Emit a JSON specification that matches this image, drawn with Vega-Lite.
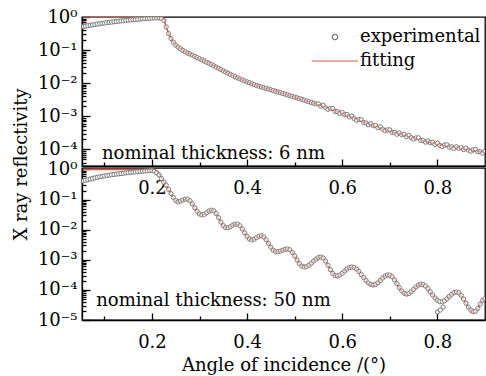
{
  "$schema": "https://vega.github.io/schema/vega-lite/v6.json",
  "padding": {"left": 11, "top": 7, "right": 0, "bottom": 0},
  "background": "white",
  "config": {
    "font": "DejaVu Serif",
    "view": {"stroke": "black", "strokeWidth": 1.3},
    "axis": {"labelFont": "DejaVu Serif", "labelFontSize": 18, "labelColor": "black", "titleFont": "DejaVu Serif", "titleFontSize": 18, "titleFontWeight": "normal", "titleColor": "black", "domainColor": "black", "domainWidth": 1.3, "tickColor": "black", "tickWidth": 1.3, "grid": false, "labelOverlap": false, "labelBound": false, "labelFlush": false}
  },
  "datasets": {
    "thin": [
      {"x":0.055,"e":0.513,"f":1},{"x":0.06,"e":0.531,"f":1},{"x":0.065,"e":0.547,"f":1},{"x":0.07,"e":0.562,"f":1},{"x":0.075,"e":0.578,"f":1},{"x":0.08,"e":0.594,"f":1},{"x":0.085,"e":0.61,"f":1},{"x":0.09,"e":0.625,"f":1},{"x":0.095,"e":0.641,"f":1},{"x":0.1,"e":0.656,"f":1},
      {"x":0.105,"e":0.671,"f":1},{"x":0.11,"e":0.687,"f":1},{"x":0.115,"e":0.701,"f":1},{"x":0.12,"e":0.716,"f":1},{"x":0.125,"e":0.731,"f":1},{"x":0.13,"e":0.746,"f":1},{"x":0.135,"e":0.76,"f":1},{"x":0.14,"e":0.774,"f":1},{"x":0.145,"e":0.789,"f":1},{"x":0.15,"e":0.804,"f":1},
      {"x":0.155,"e":0.817,"f":1},{"x":0.16,"e":0.83,"f":1},{"x":0.165,"e":0.843,"f":1},{"x":0.17,"e":0.857,"f":1},{"x":0.175,"e":0.869,"f":1},{"x":0.18,"e":0.881,"f":1},{"x":0.185,"e":0.893,"f":1},{"x":0.19,"e":0.904,"f":1},{"x":0.195,"e":0.914,"f":1},{"x":0.2,"e":0.925,"f":1},
      {"x":0.205,"e":0.933,"f":1},{"x":0.21,"e":0.94,"f":1},{"x":0.215,"e":0.944,"f":1},{"x":0.22,"e":0.912,"f":0.98},{"x":0.225,"e":0.794,"f":0.85},{"x":0.23,"e":0.501,"f":0.5},{"x":0.235,"e":0.316,"f":0.32},{"x":0.24,"e":0.224,"f":0.224},{"x":0.245,"e":0.174,"f":0.174},{"x":0.25,"e":0.141,"f":0.141},
      {"x":0.255,"e":0.123,"f":0.123},{"x":0.26,"e":0.11,"f":0.11},{"x":0.265,"e":0.098,"f":0.098},{"x":0.27,"e":0.089,"f":0.089},{"x":0.275,"e":0.081,"f":0.081},{"x":0.28,"e":0.076,"f":0.076},{"x":0.285,"e":0.07,"f":0.07},{"x":0.29,"e":0.0646,"f":0.0646},{"x":0.295,"e":0.0596,"f":0.0596},{"x":0.3,"e":0.055,"f":0.055},
      {"x":0.305,"e":0.0507,"f":0.0507},{"x":0.31,"e":0.0468,"f":0.0468},{"x":0.315,"e":0.0432,"f":0.0432},{"x":0.32,"e":0.0398,"f":0.0398},{"x":0.325,"e":0.0366,"f":0.0366},{"x":0.33,"e":0.0335,"f":0.0335},{"x":0.335,"e":0.0308,"f":0.0308},{"x":0.34,"e":0.0282,"f":0.0282},{"x":0.345,"e":0.0259,"f":0.0259},{"x":0.35,"e":0.0237,"f":0.0237},
      {"x":0.355,"e":0.0218,"f":0.0218},{"x":0.36,"e":0.02,"f":0.02},{"x":0.365,"e":0.0184,"f":0.0184},{"x":0.37,"e":0.017,"f":0.017},{"x":0.375,"e":0.0157,"f":0.0157},{"x":0.38,"e":0.0145,"f":0.0145},{"x":0.385,"e":0.0135,"f":0.0135},{"x":0.39,"e":0.0126,"f":0.0126},{"x":0.395,"e":0.0117,"f":0.0117},{"x":0.4,"e":0.011,"f":0.011},
      {"x":0.405,"e":0.0103,"f":0.0103},{"x":0.41,"e":0.00966,"f":0.00966},{"x":0.415,"e":0.00906,"f":0.00906},{"x":0.42,"e":0.00851,"f":0.00851},{"x":0.425,"e":0.00809,"f":0.00809},{"x":0.43,"e":0.00771,"f":0.00771},{"x":0.435,"e":0.00733,"f":0.00733},{"x":0.44,"e":0.00697,"f":0.00697},{"x":0.445,"e":0.00664,"f":0.00664},{"x":0.45,"e":0.00631,"f":0.00631},
      {"x":0.455,"e":0.006,"f":0.006},{"x":0.46,"e":0.0057,"f":0.0057},{"x":0.465,"e":0.00542,"f":0.00542},{"x":0.47,"e":0.00515,"f":0.00515},{"x":0.475,"e":0.0049,"f":0.0049},{"x":0.48,"e":0.00466,"f":0.00466},{"x":0.485,"e":0.00443,"f":0.00443},{"x":0.49,"e":0.00421,"f":0.00421},{"x":0.495,"e":0.004,"f":0.004},{"x":0.5,"e":0.0038,"f":0.0038},
      {"x":0.505,"e":0.00361,"f":0.00361},{"x":0.51,"e":0.00342,"f":0.00342},{"x":0.515,"e":0.00324,"f":0.00324},{"x":0.52,"e":0.00308,"f":0.00308},{"x":0.525,"e":0.00292,"f":0.00292},{"x":0.53,"e":0.00277,"f":0.00277},{"x":0.535,"e":0.00262,"f":0.00262},{"x":0.54,"e":0.00249,"f":0.00249},{"x":0.545,"e":0.00236,"f":0.00236},{"x":0.55,"e":0.00237,"f":0.00224},
      {"x":0.555,"e":0.002,"f":0.00211},{"x":0.56,"e":0.00217,"f":0.00199},{"x":0.565,"e":0.00181,"f":0.00187},{"x":0.57,"e":0.00162,"f":0.00176},{"x":0.575,"e":0.00173,"f":0.00166},{"x":0.58,"e":0.00172,"f":0.00156},{"x":0.585,"e":0.00141,"f":0.00147},{"x":0.59,"e":0.00139,"f":0.00139},{"x":0.595,"e":0.00122,"f":0.00131},{"x":0.6,"e":0.00132,"f":0.00123},
      {"x":0.605,"e":0.00113,"f":0.00115},{"x":0.61,"e":0.00114,"f":0.00108},{"x":0.615,"e":0.00096,"f":0.00101},{"x":0.62,"e":0.00103,"f":0.000942},{"x":0.625,"e":0.000855,"f":0.000881},{"x":0.63,"e":0.000758,"f":0.000824},{"x":0.635,"e":0.000802,"f":0.000771},{"x":0.64,"e":0.000793,"f":0.000721},{"x":0.645,"e":0.000648,"f":0.000675},{"x":0.65,"e":0.000631,"f":0.000631},
      {"x":0.655,"e":0.000554,"f":0.000596},{"x":0.66,"e":0.000601,"f":0.000562},{"x":0.665,"e":0.00052,"f":0.000531},{"x":0.67,"e":0.000531,"f":0.000501},{"x":0.675,"e":0.000449,"f":0.000473},{"x":0.68,"e":0.000487,"f":0.000447},{"x":0.685,"e":0.000409,"f":0.000422},{"x":0.69,"e":0.000366,"f":0.000398},{"x":0.695,"e":0.000391,"f":0.000376},{"x":0.7,"e":0.000391,"f":0.000355},
      {"x":0.705,"e":0.000325,"f":0.000339},{"x":0.71,"e":0.000324,"f":0.000324},{"x":0.715,"e":0.000287,"f":0.000309},{"x":0.72,"e":0.000316,"f":0.000295},{"x":0.725,"e":0.000276,"f":0.000282},{"x":0.73,"e":0.000285,"f":0.000269},{"x":0.735,"e":0.000244,"f":0.000257},{"x":0.74,"e":0.000267,"f":0.000245},{"x":0.745,"e":0.000227,"f":0.000234},{"x":0.75,"e":0.000206,"f":0.000224},
      {"x":0.755,"e":0.000223,"f":0.000214},{"x":0.76,"e":0.000224,"f":0.000204},{"x":0.765,"e":0.000187,"f":0.000195},{"x":0.77,"e":0.000186,"f":0.000186},{"x":0.775,"e":0.000166,"f":0.000178},{"x":0.78,"e":0.000182,"f":0.00017},{"x":0.785,"e":0.000159,"f":0.000162},{"x":0.79,"e":0.000164,"f":0.000155},{"x":0.795,"e":0.000141,"f":0.000148},{"x":0.8,"e":0.000154,"f":0.000141},
      {"x":0.805,"e":0.000133,"f":0.000137},{"x":0.81,"e":0.000123,"f":0.000134},{"x":0.815,"e":0.000135,"f":0.00013},{"x":0.82,"e":0.000139,"f":0.000126},{"x":0.825,"e":0.000118,"f":0.000123},{"x":0.83,"e":0.00012,"f":0.00012},{"x":0.835,"e":0.000108,"f":0.000116},{"x":0.84,"e":0.000121,"f":0.000113},{"x":0.845,"e":0.000108,"f":0.00011},{"x":0.85,"e":0.000113,"f":0.000107},
      {"x":0.855,"e":0.0000988,"f":0.000104},{"x":0.86,"e":0.00011,"f":0.000101},{"x":0.865,"e":0.0000956,"f":0.0000986},{"x":0.87,"e":0.0000882,"f":0.0000959},{"x":0.875,"e":0.000097,"f":0.0000933},{"x":0.88,"e":0.0000999,"f":0.0000908},{"x":0.885,"e":0.0000848,"f":0.0000883},{"x":0.89,"e":0.0000859,"f":0.0000859},{"x":0.895,"e":0.0000777,"f":0.0000836},{"x":0.9,"e":0.000087,"f":0.0000813}
    ],
    "thick": [
      {"x":0.055,"e":0.417,"f":1},{"x":0.06,"e":0.437,"f":1},{"x":0.065,"e":0.457,"f":1},{"x":0.07,"e":0.479,"f":1},{"x":0.075,"e":0.501,"f":1},{"x":0.08,"e":0.525,"f":1},{"x":0.085,"e":0.55,"f":1},{"x":0.09,"e":0.569,"f":1},{"x":0.095,"e":0.589,"f":1},{"x":0.1,"e":0.61,"f":1},
      {"x":0.105,"e":0.631,"f":1},{"x":0.11,"e":0.646,"f":1},{"x":0.115,"e":0.668,"f":1},{"x":0.12,"e":0.684,"f":1},{"x":0.125,"e":0.7,"f":1},{"x":0.13,"e":0.716,"f":1},{"x":0.135,"e":0.733,"f":1},{"x":0.14,"e":0.75,"f":1},{"x":0.145,"e":0.767,"f":1},{"x":0.15,"e":0.785,"f":1},
      {"x":0.155,"e":0.8,"f":1},{"x":0.16,"e":0.815,"f":1},{"x":0.165,"e":0.83,"f":1},{"x":0.17,"e":0.845,"f":1},{"x":0.175,"e":0.859,"f":1},{"x":0.18,"e":0.873,"f":1},{"x":0.185,"e":0.887,"f":1},{"x":0.19,"e":0.902,"f":1},{"x":0.195,"e":0.916,"f":1},{"x":0.2,"e":0.933,"f":1},
      {"x":0.205,"e":0.871,"f":1},{"x":0.21,"e":0.776,"f":0.92},{"x":0.215,"e":0.661,"f":0.74},{"x":0.22,"e":0.501,"f":0.53},{"x":0.225,"e":0.38,"f":0.39},{"x":0.23,"e":0.302,"f":0.29},{"x":0.235,"e":0.219,"f":0.21},{"x":0.24,"e":0.158,"f":0.155},{"x":0.245,"e":0.117,"f":0.117},{"x":0.25,"e":0.0933,"f":0.0933},
      {"x":0.255,"e":0.0841,"f":0.0841},{"x":0.26,"e":0.0895,"f":0.0895},{"x":0.265,"e":0.0973,"f":0.0973},{"x":0.27,"e":0.1035,"f":0.1035},{"x":0.275,"e":0.1035,"f":0.1035},{"x":0.28,"e":0.0912,"f":0.0912},{"x":0.285,"e":0.0718,"f":0.0718},{"x":0.29,"e":0.0536,"f":0.0536},{"x":0.295,"e":0.0406,"f":0.0406},{"x":0.3,"e":0.0332,"f":0.0332},
      {"x":0.305,"e":0.0309,"f":0.0309},{"x":0.31,"e":0.0324,"f":0.0324},{"x":0.315,"e":0.0366,"f":0.0366},{"x":0.32,"e":0.0417,"f":0.0417},{"x":0.325,"e":0.0446,"f":0.0446},{"x":0.33,"e":0.0423,"f":0.0423},{"x":0.335,"e":0.0344,"f":0.0344},{"x":0.34,"e":0.0251,"f":0.0251},{"x":0.345,"e":0.0179,"f":0.0179},{"x":0.35,"e":0.0136,"f":0.0136},
      {"x":0.355,"e":0.0116,"f":0.0116},{"x":0.36,"e":0.0116,"f":0.0116},{"x":0.365,"e":0.0126,"f":0.0126},{"x":0.37,"e":0.0141,"f":0.0141},{"x":0.375,"e":0.0153,"f":0.0153},{"x":0.38,"e":0.0153,"f":0.0153},{"x":0.385,"e":0.0135,"f":0.0135},{"x":0.39,"e":0.0106,"f":0.0106},{"x":0.395,"e":0.00792,"f":0.00792},{"x":0.4,"e":0.006,"f":0.006},
      {"x":0.405,"e":0.00491,"f":0.00491},{"x":0.41,"e":0.00457,"f":0.00457},{"x":0.415,"e":0.00481,"f":0.00481},{"x":0.42,"e":0.00545,"f":0.00545},{"x":0.425,"e":0.0061,"f":0.0061},{"x":0.43,"e":0.0063,"f":0.0063},{"x":0.435,"e":0.00571,"f":0.00571},{"x":0.44,"e":0.00462,"f":0.00462},{"x":0.445,"e":0.00349,"f":0.00349},{"x":0.45,"e":0.00261,"f":0.00261},
      {"x":0.455,"e":0.00208,"f":0.00208},{"x":0.46,"e":0.00184,"f":0.00184},{"x":0.465,"e":0.00184,"f":0.00184},{"x":0.47,"e":0.00194,"f":0.00194},{"x":0.475,"e":0.00209,"f":0.00209},{"x":0.48,"e":0.00223,"f":0.00223},{"x":0.485,"e":0.00229,"f":0.00229},{"x":0.49,"e":0.00214,"f":0.00214},{"x":0.495,"e":0.00176,"f":0.00176},{"x":0.5,"e":0.00134,"f":0.00134},
      {"x":0.505,"e":0.000984,"f":0.000984},{"x":0.51,"e":0.000748,"f":0.000748},{"x":0.515,"e":0.000617,"f":0.000617},{"x":0.52,"e":0.000575,"f":0.000575},{"x":0.525,"e":0.000597,"f":0.000597},{"x":0.53,"e":0.000665,"f":0.000665},{"x":0.535,"e":0.000773,"f":0.000773},{"x":0.54,"e":0.000916,"f":0.000916},{"x":0.545,"e":0.00106,"f":0.00106},{"x":0.55,"e":0.00119,"f":0.00119},
      {"x":0.555,"e":0.00123,"f":0.00123},{"x":0.56,"e":0.00114,"f":0.00114},{"x":0.565,"e":0.000908,"f":0.000908},{"x":0.57,"e":0.000659,"f":0.000659},{"x":0.575,"e":0.000472,"f":0.000472},{"x":0.58,"e":0.000353,"f":0.000353},{"x":0.585,"e":0.000297,"f":0.000285},{"x":0.59,"e":0.00029,"f":0.000265},{"x":0.595,"e":0.000312,"f":0.000305},{"x":0.6,"e":0.000357,"f":0.000357},
      {"x":0.605,"e":0.000422,"f":0.000422},{"x":0.61,"e":0.000493,"f":0.000493},{"x":0.615,"e":0.000552,"f":0.000552},{"x":0.62,"e":0.000575,"f":0.000575},{"x":0.625,"e":0.000552,"f":0.000552},{"x":0.63,"e":0.00049,"f":0.00049},{"x":0.635,"e":0.000407,"f":0.000407},{"x":0.64,"e":0.000325,"f":0.000325},{"x":0.645,"e":0.000256,"f":0.000256},{"x":0.65,"e":0.000204,"f":0.000204},
      {"x":0.655,"e":0.00017,"f":0.000165},{"x":0.66,"e":0.000151,"f":0.000142},{"x":0.665,"e":0.000145,"f":0.000135},{"x":0.67,"e":0.000151,"f":0.000146},{"x":0.675,"e":0.000172,"f":0.000172},{"x":0.68,"e":0.000206,"f":0.000206},{"x":0.685,"e":0.000248,"f":0.000248},{"x":0.69,"e":0.000288,"f":0.000288},{"x":0.695,"e":0.000314,"f":0.000314},{"x":0.7,"e":0.000309,"f":0.000309},
      {"x":0.705,"e":0.000272,"f":0.000272},{"x":0.71,"e":0.000214,"f":0.000214},{"x":0.715,"e":0.000161,"f":0.000161},{"x":0.72,"e":0.000119,"f":0.000119},{"x":0.725,"e":0.0000916,"f":0.000088},{"x":0.73,"e":0.0000771,"f":0.000072},{"x":0.735,"e":0.0000724,"f":0.000068},{"x":0.74,"e":0.0000759,"f":0.000073},{"x":0.745,"e":0.0000869,"f":0.0000869},{"x":0.75,"e":0.000104,"f":0.000104},
      {"x":0.755,"e":0.000125,"f":0.000125},{"x":0.76,"e":0.000145,"f":0.000145},{"x":0.765,"e":0.000155,"f":0.000155},{"x":0.77,"e":0.00015,"f":0.00015},{"x":0.775,"e":0.000134,"f":0.000134},{"x":0.78,"e":0.00011,"f":0.00011},{"x":0.785,"e":0.0000869,"f":0.0000869},{"x":0.79,"e":0.0000676,"f":0.0000676},{"x":0.795,"e":0.0000537,"f":0.0000537},{"x":0.8,"e":0.000045,"f":0.000043},
      {"x":0.8,"e":0.0000186},{"x":0.806,"e":0.0000214},{"x":0.812,"e":0.0000269},
      {"x":0.805,"e":0.0000405,"f":0.000038},{"x":0.81,"e":0.0000401,"f":0.000038},{"x":0.815,"e":0.0000434,"f":0.0000434},{"x":0.82,"e":0.0000504,"f":0.0000504},{"x":0.825,"e":0.0000604,"f":0.0000604},{"x":0.83,"e":0.0000718,"f":0.0000718},{"x":0.835,"e":0.0000815,"f":0.0000815},{"x":0.84,"e":0.0000851,"f":0.0000851},{"x":0.845,"e":0.0000796,"f":0.0000796},{"x":0.85,"e":0.0000656,"f":0.0000656},
      {"x":0.855,"e":0.0000499,"f":0.0000499},{"x":0.86,"e":0.0000361,"f":0.0000361},{"x":0.865,"e":0.0000269,"f":0.0000269},{"x":0.87,"e":0.0000213,"f":0.000021},{"x":0.875,"e":0.0000188,"f":0.000018},{"x":0.88,"e":0.0000194,"f":0.0000185},{"x":0.885,"e":0.0000243,"f":0.0000243},{"x":0.89,"e":0.0000338,"f":0.0000338},{"x":0.895,"e":0.000045,"f":0.000045},{"x":0.9,"e":0.0000501,"f":0.0000501}
    ]
  },
  "spacing": 2,
  "bounds": "flush",
  "resolve": {"scale": {"x": "independent", "y": "independent", "stroke": "independent"}, "legend": {"stroke": "independent"}},
  "vconcat": [
    {
      "width": 403,
      "height": 149,
      "data": {"name": "thin"},
      "encoding": {
        "x": {"field": "x", "type": "quantitative", "scale": {"domain": [0.053, 0.9], "nice": false, "zero": false},
          "axis": {"title": null, "values": [0.1,0.2,0.3,0.4,0.5,0.6,0.7,0.8], "labelExpr": "round(datum.value*10)%2==0 ? format(datum.value,'.1f') : ''", "tickSize": {"condition": {"test": "round(datum.value*10)%2==0", "value": -7}, "value": -4}, "labelPadding": 20}}
      },
      "layer": [
        {
          "mark": {"type": "line", "strokeWidth": 1.3, "clip": true},
          "encoding": {
            "y": {"field": "f", "type": "quantitative", "scale": {"type": "log", "domain": [0.0000316, 1], "nice": false},
              "axis": {"title": "X ray reflectivity", "titleX": -61, "titleY": 147, "titleBaseline": "middle", "titleAngle": -90,
                "values": [1,0.9,0.8,0.7,0.6,0.5,0.4,0.3,0.2,0.1,0.09,0.08,0.07,0.06,0.05,0.04,0.03,0.02,0.01,0.009,0.008,0.007,0.006,0.005,0.004,0.003,0.002,0.001,0.0009,0.0008,0.0007,0.0006,0.0005,0.0004,0.0003,0.0002,0.0001,0.00009,0.00008,0.00007,0.00006,0.00005,0.00004],
                "labelExpr": "abs(log(datum.value)/LN10 - round(log(datum.value)/LN10)) < 0.01 ? '10' + ['⁰','⁻¹','⁻²','⁻³','⁻⁴','⁻⁵'][-round(log(datum.value)/LN10)] : ''",
                "tickSize": {"condition": {"test": "abs(log(datum.value)/LN10 - round(log(datum.value)/LN10)) < 0.01", "value": -8}, "value": -4},
                "labelPadding": 13}},
            "stroke": {"datum": "fitting", "scale": {"domain": ["experimental", "fitting"], "range": ["#6e6e6e", "#d9573e"]},
              "legend": {"orient": "none", "legendX": 244, "legendY": 11, "title": null, "padding": 0, "labelFont": "DejaVu Serif", "labelFontSize": 18, "labelColor": "black", "symbolSize": 100, "labelOffset": 16, "rowPadding": 6,
                "encode": {"symbols": {"update": {
                  "shape": {"signal": "datum.value === 'fitting' ? 'stroke' : 'circle'"},
                  "size": {"signal": "datum.value === 'fitting' ? 2116 : 30"},
                  "stroke": {"signal": "datum.value === 'fitting' ? '#d9573e' : '#6e6e6e'"},
                  "fill": {"value": "white"},
                  "strokeWidth": {"value": 1.2}}}}}}
          }
        },
        {
          "mark": {"type": "point", "shape": "circle", "filled": false, "fill": "white", "fillOpacity": 1, "size": 18, "strokeWidth": 0.9, "opacity": 1, "clip": true},
          "encoding": {
            "y": {"field": "e", "type": "quantitative"},
            "stroke": {"datum": "experimental"}
          }
        },
        {
          "mark": {"type": "line", "strokeWidth": 1.1, "opacity": 0.55, "color": "#d9573e", "clip": true},
          "encoding": {"y": {"field": "f", "type": "quantitative"}}
        },
        {
          "data": {"values": [{"x": 0.095, "y": 0.00005, "t": "nominal thickness: 6 nm"}]},
          "mark": {"type": "text", "align": "left", "baseline": "alphabetic", "font": "DejaVu Serif", "fontSize": 18, "color": "black"},
          "encoding": {"y": {"field": "y", "type": "quantitative"}, "text": {"field": "t"}}
        }
      ]
    },
    {
      "width": 403,
      "height": 152,
      "data": {"name": "thick"},
      "encoding": {
        "x": {"field": "x", "type": "quantitative", "scale": {"domain": [0.053, 0.9], "nice": false, "zero": false},
          "axis": {"title": "Angle of incidence /(°)", "titlePadding": 2, "values": [0.1,0.2,0.3,0.4,0.5,0.6,0.7,0.8], "labelExpr": "round(datum.value*10)%2==0 ? format(datum.value,'.1f') : ''", "tickSize": {"condition": {"test": "round(datum.value*10)%2==0", "value": -7}, "value": -4}, "labelPadding": 20}}
      },
      "layer": [
        {
          "mark": {"type": "line", "strokeWidth": 1.3, "color": "#d9573e", "clip": true},
          "encoding": {
            "y": {"field": "f", "type": "quantitative", "scale": {"type": "log", "domain": [0.00001, 1.12], "nice": false},
              "axis": {"title": null,
                "values": [1,0.9,0.8,0.7,0.6,0.5,0.4,0.3,0.2,0.1,0.09,0.08,0.07,0.06,0.05,0.04,0.03,0.02,0.01,0.009,0.008,0.007,0.006,0.005,0.004,0.003,0.002,0.001,0.0009,0.0008,0.0007,0.0006,0.0005,0.0004,0.0003,0.0002,0.0001,0.00009,0.00008,0.00007,0.00006,0.00005,0.00004,0.00003,0.00002,0.00001],
                "labelExpr": "abs(log(datum.value)/LN10 - round(log(datum.value)/LN10)) < 0.01 ? '10' + ['⁰','⁻¹','⁻²','⁻³','⁻⁴','⁻⁵'][-round(log(datum.value)/LN10)] : ''",
                "tickSize": {"condition": {"test": "abs(log(datum.value)/LN10 - round(log(datum.value)/LN10)) < 0.01", "value": -8}, "value": -4},
                "labelPadding": 13}}
          }
        },
        {
          "mark": {"type": "point", "shape": "circle", "filled": false, "fill": "white", "fillOpacity": 1, "stroke": "#6e6e6e", "size": 18, "strokeWidth": 0.9, "opacity": 1, "clip": true},
          "encoding": {"y": {"field": "e", "type": "quantitative"}}
        },
        {
          "mark": {"type": "line", "strokeWidth": 1.1, "opacity": 0.4, "color": "#d9573e", "clip": true},
          "encoding": {"y": {"field": "f", "type": "quantitative"}}
        },
        {
          "data": {"values": [{"x": 0.083, "y": 0.0000292, "t": "nominal thickness: 50 nm"}]},
          "mark": {"type": "text", "align": "left", "baseline": "alphabetic", "font": "DejaVu Serif", "fontSize": 18, "color": "black"},
          "encoding": {"y": {"field": "y", "type": "quantitative"}, "text": {"field": "t"}}
        }
      ]
    }
  ]
}
